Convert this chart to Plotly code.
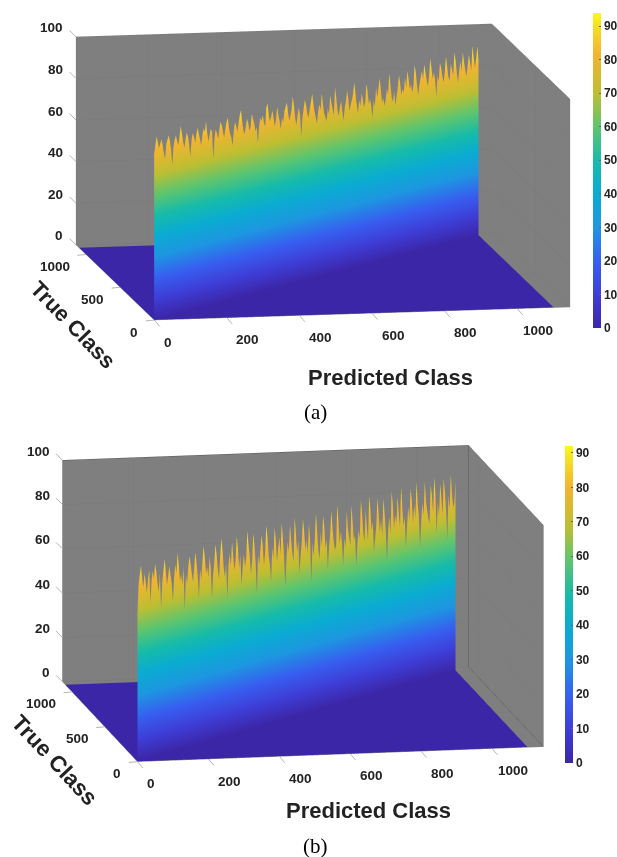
import numpy as np
import plotly.graph_objects as go

# Ridge heights along the diagonal (percent), read left to right from the picture
diag_a = [80,84,88,85,82,84,86,83,79,76,83,85,87,84,80,72,81,84,86,83,81,85,90,86,82,79,83,86,84,80,
          74,82,85,83,80,84,87,84,81,78,83,86,84,89,83,79,82,85,83,70,80,84,82,79,83,87,85,82,79,83,
          86,88,83,80,78,74,81,85,83,80,84,88,90,84,80,78,82,85,83,79,81,87,84,82,78,80,72,80,84,82,
          85,81,79,88,90,84,81,83,86,82,78,81,87,83,80,76,81,79,84,86,88,83,79,81,84,90,85,79,76,81,
          84,80,70,79,83,87,84,80,78,82,85,89,84,80,77,74,80,83,80,88,82,78,76,74,80,77,86,82,79,76,
          89,84,78,75,79,82,77,72,78,81,86,82,76,79,81,84,89,83,78,74,80,77,83,80,76,78,87,83,77,79,
          76,70,78,75,84,79,83,88,82,76,78,74,77,82,79,89,83,77,75,80,73,77,81,87,83,77,80,78,85,80,
          88,84,79,81,77,80,90,86,80,75,80,83,86,82,89,85,81,78,83,91,86,81,84,80,72,82,79,88,85,81,
          78,83,90,85,80,78,86,83,80,91,87,81,76,82,86,81,90,85,81,78,83,88,84,80,92,86,81,85,91,84]
diag_b = [66,80,84,88,82,78,84,80,75,81,85,70,80,84,80,87,83,78,74,82,66,78,83,88,82,76,80,84,80,76,
          68,78,84,80,89,83,76,79,74,82,62,78,74,81,86,82,78,74,80,87,82,76,66,79,74,82,89,83,76,79,
          74,83,78,64,75,80,88,83,76,72,82,90,84,76,72,78,62,77,82,76,87,80,74,78,89,83,74,80,66,74,
          80,74,78,90,83,78,70,76,88,82,74,60,78,73,80,86,81,72,78,90,84,76,72,64,79,74,88,82,72,78,
          83,75,89,82,74,60,72,80,75,87,80,74,70,90,82,74,79,64,72,78,88,82,74,78,72,85,78,58,76,70,
          78,89,80,72,68,80,73,87,82,72,76,62,72,78,88,80,74,70,72,90,82,72,78,72,62,74,70,86,78,74,
          70,88,80,72,74,60,70,76,72,89,82,74,70,84,76,70,90,83,74,78,64,70,76,88,80,72,78,70,87,80,
          72,58,72,78,70,89,82,72,78,74,86,78,72,90,80,72,76,62,72,80,74,88,82,72,80,74,90,80,74,60,
          72,80,74,89,80,76,72,70,87,82,74,90,82,64,78,72,86,80,72,88,82,74,60,80,74,89,80,74,76,86]
class_end = 1100
axis_max = 1145
z_ticks = [0, 20, 40, 60, 80, 100]
x_ticks = [0, 200, 400, 600, 800, 1000]
y_ticks = [0, 500, 1000]
bar_ticks = [0, 10, 20, 30, 40, 50, 60, 70, 80, 90]
colorscale = [[0, "rgb(60,38,168)"], [0.106, "rgb(62,62,215)"], [0.21, "rgb(55,95,240)"],
              [0.32, "rgb(30,150,225)"], [0.43, "rgb(10,172,210)"], [0.53, "rgb(22,187,170)"],
              [0.64, "rgb(95,197,110)"], [0.745, "rgb(190,190,50)"], [0.87, "rgb(243,180,48)"],
              [0.96, "rgb(245,225,35)"], [1, "rgb(250,250,20)"]]
WALL = "rgb(127,127,127)"
GRID = "rgb(121,121,121)"
TICK = "#b4b4b4"
INK = "#222222"
TICKF = dict(family="Liberation Sans", size=13.5, color=INK, weight="bold")
BARF = dict(family="Liberation Sans", size=12, color=INK, weight="bold")
TITLEF = dict(family="Liberation Sans", size=22, color=INK, weight="bold")
FLAT = dict(ambient=1, diffuse=0, specular=0, fresnel=0, roughness=1)

def wall_trace(values, scene, cmax, bar_x, bar_y, bar_len):
    v = np.array(values, dtype=float)
    n = len(v)
    pos = np.linspace(0, class_end, n)
    xs = np.concatenate([pos, pos])
    zs = np.concatenate([np.zeros(n), v])
    a = np.arange(n - 1)
    i = np.concatenate([a, a + 1])
    j = np.concatenate([a + 1, a + 1 + n])
    k = np.concatenate([a + n, a + n])
    return go.Mesh3d(x=xs, y=xs, z=zs, i=i, j=j, k=k, intensity=zs, colorscale=colorscale,
                     cmin=0, cmax=cmax, scene=scene, flatshading=False, lighting=FLAT, hoverinfo="skip",
                     colorbar=dict(x=bar_x, y=bar_y, len=bar_len, lenmode="pixels", thickness=8,
                                   xanchor="left", yanchor="top", outlinewidth=0, tickvals=bar_ticks,
                                   ticks="inside", ticklen=2, tickcolor="#666666", tickfont=BARF,
                                   xpad=0, ypad=0))

def floor_trace(scene, cmax):
    return go.Mesh3d(x=[0, class_end, class_end, 0], y=[0, 0, class_end, class_end], z=[0.1, 0.1, 0.1, 0.1],
                     i=[0, 0], j=[1, 2], k=[2, 3], intensity=[0, 0, 0, 0], colorscale=colorscale,
                     cmin=0, cmax=cmax, scene=scene, showscale=False, hoverinfo="skip", lighting=FLAT)

def axis(ticks, rng):
    return dict(range=rng, tickvals=ticks, showticklabels=False, title=dict(text=""),
                backgroundcolor=WALL, showbackground=True, gridcolor=GRID, gridwidth=1,
                zeroline=False, showline=False, ticks="", showspikes=False)

def tick_annots():
    out = []
    def add(x, y, z, text, xa, xs, ys, ax, ay):
        out.append(dict(x=x, y=y, z=z, text=text, showarrow=False, font=TICKF, xanchor=xa, yanchor="middle",
                        xshift=xs, yshift=ys))
        out.append(dict(x=x, y=y, z=z, text=" ", showarrow=True, arrowhead=0, arrowwidth=1, arrowcolor=TICK,
                        ax=ax, ay=ay, font=dict(size=1), standoff=0))
    for t in z_ticks:
        add(0, axis_max, t, str(t), "right", -11, 9, -8, -8)
    for t in x_ticks:
        add(t, 0, 0, str(t), "center", 21 if t else 14, -22, 7, 8)
    for t in y_ticks:
        add(0, t, 0, str(t), "right", -14, -12, -10, 1)
    return out

W, H = 617, 857
fig = go.Figure()
fig.add_trace(floor_trace("scene", 93.9))
fig.add_trace(wall_trace(diag_a, "scene", 93.9, 593 / W, 1 - 13 / H, 315))
fig.add_trace(floor_trace("scene2", 92))
fig.add_trace(wall_trace(diag_b, "scene2", 92, 565 / W, 1 - 446 / H, 317))
# dark box edges seen in the lower panel
fig.add_trace(go.Scatter3d(x=[0, axis_max, axis_max, axis_max], y=[axis_max, axis_max, axis_max, 0],
                           z=[100, 100, 0, 0], mode="lines", scene="scene2", hoverinfo="skip",
                           line=dict(color="rgb(85,85,85)", width=1), showlegend=False))

def scene_layout(x0, x1, y0, y1, aspect, eye, dist):
    nrm = np.linalg.norm(eye)
    e = [c / nrm * dist for c in eye]
    return dict(domain=dict(x=[x0 / W, x1 / W], y=[1 - y1 / H, 1 - y0 / H]),
                xaxis=axis(x_ticks, [0, axis_max]), yaxis=axis(y_ticks, [0, axis_max]),
                zaxis=axis(z_ticks, [0, 100]),
                aspectmode="manual", aspectratio=dict(x=aspect[0], y=aspect[1], z=aspect[2]),
                annotations=tick_annots(),
                camera=dict(projection=dict(type="orthographic"), up=dict(x=0, y=0, z=1),
                            center=dict(x=0, y=0, z=0), eye=dict(x=e[0], y=e[1], z=e[2])))

fig.update_layout(
    width=W, height=H, margin=dict(l=0, r=0, t=0, b=0, autoexpand=False), paper_bgcolor="white",
    showlegend=False,
    scene=scene_layout(33, 613, 0, 344, (2.456, 2.557, 1.228), (-0.1749, -0.969, 0.1735), 6),
    scene2=scene_layout(3, 603, 431, 776, (2.394, 2.375, 1.31), (-0.1791, -0.9636, 0.1983), 6),
)

def label(text, x, y, font, angle=0):
    fig.add_annotation(text=text, x=x / W, y=1 - y / H, xref="paper", yref="paper", showarrow=False,
                       font=font, textangle=angle, xanchor="center", yanchor="middle")

label("Predicted Class", 390, 378, TITLEF)
label("Predicted Class", 368, 810, TITLEF)
label("True Class", 73, 324, dict(TITLEF, size=22), 46)
label("True Class", 55, 760, dict(TITLEF, size=22.5), 47)
SER = dict(family="Liberation Serif", size=21, color="black")
label("(a)", 315, 412, SER)
label("(b)", 315, 846, SER)

fig.write_html("out.html", post_script="document.body.style.margin='0';",
               config=dict(displayModeBar=False))
